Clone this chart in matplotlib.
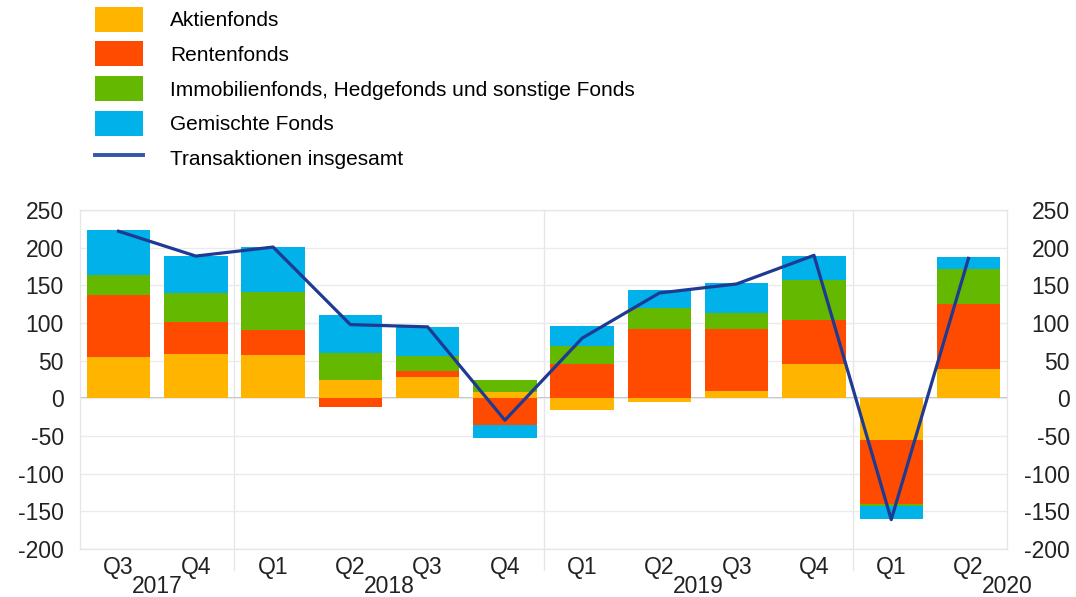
import numpy as np
from matplotlib import pyplot as plt
from matplotlib.patches import Patch
from matplotlib.lines import Line2D

quarters = ["Q3", "Q4", "Q1", "Q2", "Q3", "Q4", "Q1", "Q2", "Q3", "Q4", "Q1", "Q2"]
years = ["2017", "2018", "2019", "2020"]
year_pos = [0.5, 3.5, 7.5, 11.5]
year_breaks = [1.5, 5.5, 9.5]

aktien = [55.5, 58.7, 57.3, 24.4, 28.0, 8.0, -15.6, -4.4, 10.2, 45.3, -55.6, 38.7]
renten = [81.5, 42.6, 33.8, -11.6, 8.9, -34.7, 45.3, 92.0, 81.8, 59.1, -85.3, 87.1]
sonstige = [26.5, 38.7, 49.8, 35.6, 19.5, 16.4, 24.4, 27.6, 21.3, 53.4, -1.5, 46.2]
gemischt = [60.5, 48.9, 60.4, 50.2, 37.8, -17.3, 25.8, 24.0, 40.0, 31.1, -17.8, 16.0]
insgesamt = [222, 189, 201, 98, 95, -29, 80, 140, 152, 190, -161, 186]

names = ["Aktienfonds", "Rentenfonds",
         "Immobilienfonds, Hedgefonds und sonstige Fonds", "Gemischte Fonds"]
colors = ["#FFB400", "#FF4B00", "#65B800", "#00B1EA"]
line_color = "#1F3A93"
txt = "#222222"

plt.rcParams['font.family'] = ['Liberation Sans', 'DejaVu Sans']
plt.rcParams['axes.unicode_minus'] = False

fig = plt.figure(figsize=(10.76, 5.97), dpi=100)
ax = fig.add_axes([0.0743, 0.0804, 0.8617, 0.5676])

x = np.arange(len(quarters))
pos_base = np.zeros(len(x))
neg_base = np.zeros(len(x))
for vals, c in zip([aktien, renten, sonstige, gemischt], colors):
    vals = np.array(vals, dtype=float)
    base = np.where(vals >= 0, pos_base, neg_base)
    ax.bar(x, vals, bottom=base, width=0.82, color=c, zorder=2)
    pos_base += np.where(vals >= 0, vals, 0)
    neg_base += np.where(vals < 0, vals, 0)

ax.plot(x, insgesamt, color=line_color, lw=2.3, zorder=3)

ax.set_xlim(-0.5, 11.5)
ax.set_ylim(-200, 250)
yt = np.arange(-200, 251, 50)
ax.set_yticks(yt)
ax.yaxis.grid(True, color="#EBEBEB", lw=1, zorder=0)
ax.axhline(0, color="#B0B0B0", lw=1.2, zorder=1)
for b in year_breaks:
    ax.plot([b, b], [-0.062, 1], transform=ax.get_xaxis_transform(),
            color="#E6E6E6", lw=1, clip_on=False, zorder=0)

ax2 = ax.twinx()
ax2.set_ylim(ax.get_ylim())
ax2.set_yticks(yt)
for a in (ax, ax2):
    for s in a.spines.values():
        s.set_color("#E6E6E6")

ax.set_xticks(x)
ax.set_xticklabels(quarters)
ax.tick_params(axis="x", length=0, labelsize=16.5, colors=txt, pad=5)
ax.tick_params(axis="y", length=0, labelsize=16.5, colors=txt, pad=11.5)
ax2.tick_params(axis="y", length=0, labelsize=16.5, colors=txt, pad=45)
for lab in ax2.get_yticklabels():
    lab.set_horizontalalignment("right")
for xp, y in zip(year_pos, years):
    ax.text(xp, -0.11, y, transform=ax.get_xaxis_transform(), ha="center",
            va="center", fontsize=16.5, color=txt)

handles = [Patch(facecolor=c, edgecolor="none") for c in colors]
handles.append(Line2D([0], [0], color="#3355AA", lw=2.8))
fig.legend(handles, names + ["Transaktionen insgesamt"], loc="upper left",
           bbox_to_anchor=(0.0883, 0.989), frameon=False, fontsize=15,
           handlelength=2.3, handleheight=1.47, labelspacing=0.47,
           handletextpad=1.3, borderaxespad=0, borderpad=0)

plt.savefig("out.png", dpi=100)
